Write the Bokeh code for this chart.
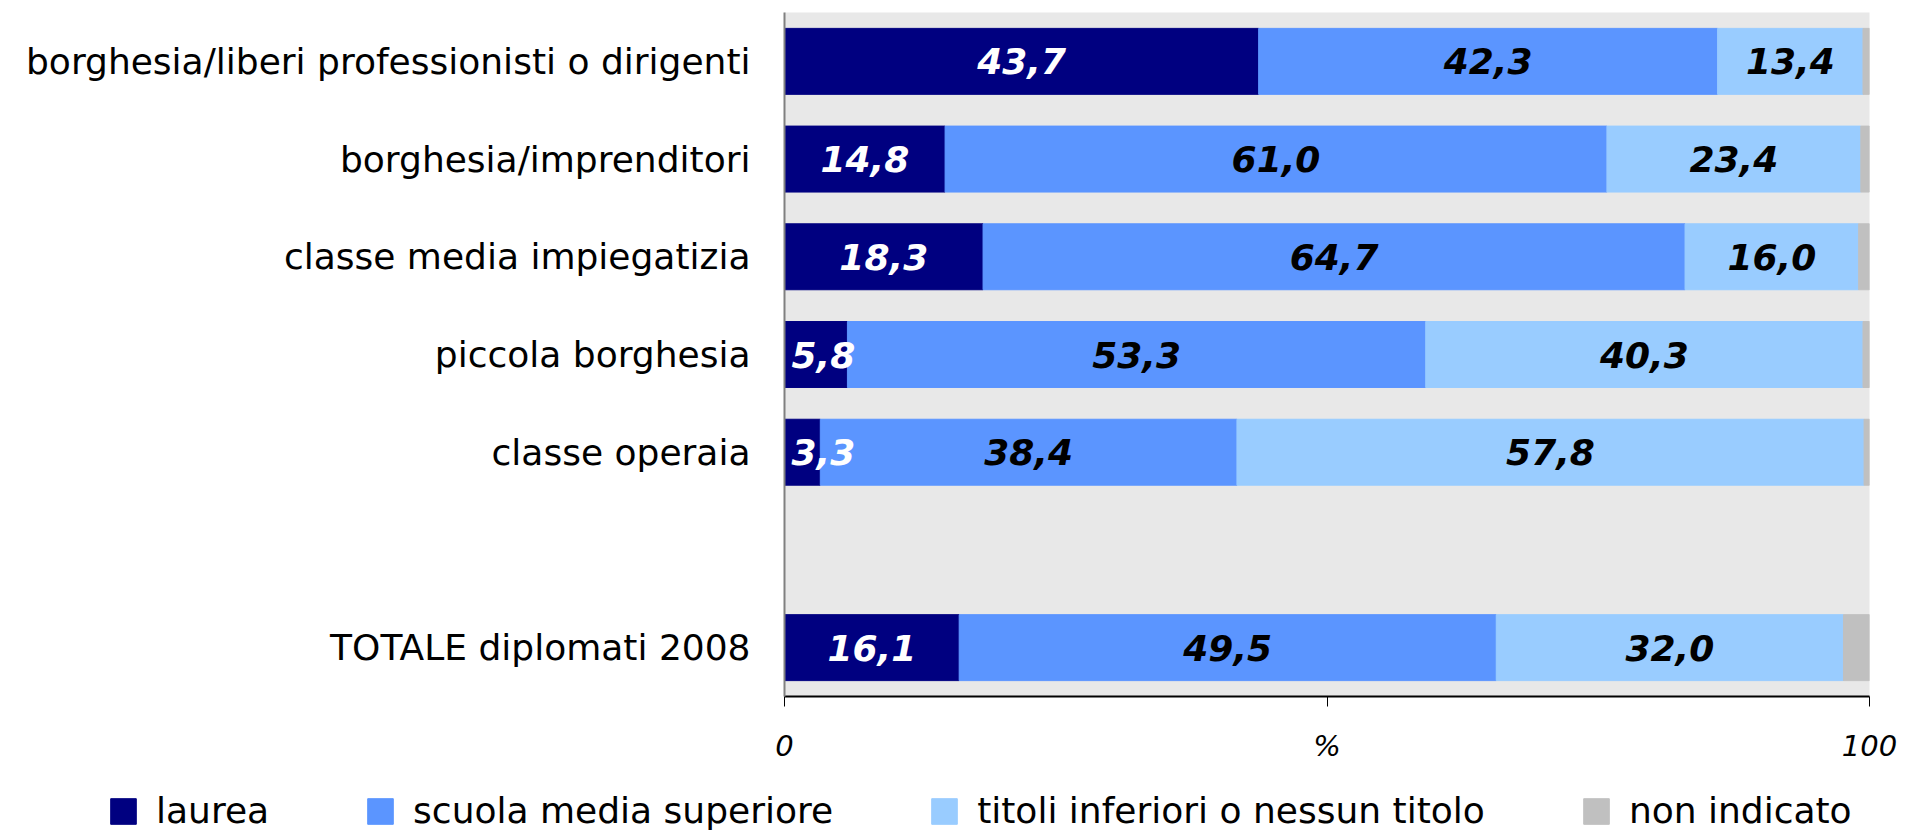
from bokeh.plotting import figure
from bokeh.models import ColumnDataSource, Range1d, FixedTicker, Legend, LegendItem
from bokeh.layouts import column
from bokeh.core.properties import value
from bokeh.embed import file_html
from bokeh.resources import INLINE

# ---- data ----
categories = ["borghesia/liberi professionisti o dirigenti", "borghesia/imprenditori",
              "classe media impiegatizia", "piccola borghesia", "classe operaia",
              "TOTALE diplomati 2008"]
row_pos = [0, 1, 2, 3, 4, 6]
laurea = [43.7, 14.8, 18.3, 5.8, 3.3, 16.1]
scuola = [42.3, 61.0, 64.7, 53.3, 38.4, 49.5]
titoli = [13.4, 23.4, 16.0, 40.3, 57.8, 32.0]
non_indicato = [0.6, 0.8, 1.0, 0.6, 0.5, 2.4]
series_names = ["laurea", "scuola media superiore", "titoli inferiori o nessun titolo", "non indicato"]
colors = ["#000080", "#5B95FF", "#99CCFF", "#C0C0C0"]
label_colors = ["white", "black", "black"]
x_ticks = [0, 50, 100]
x_tick_labels = ["0", "%", "100"]

keys = ["laurea", "scuola", "titoli", "non"]
src = ColumnDataSource(dict(y=row_pos, laurea=laurea, scuola=scuola, titoli=titoli, non=non_indicato))

p = figure(width=1899, height=766, x_range=Range1d(0, 100), y_range=Range1d(6.5, -0.5),
           output_backend="svg", toolbar_location=None, title=None,
           min_border_left=784, min_border_right=30, min_border_top=12, min_border_bottom=70)
p.background_fill_color = "#E8E8E8"
p.border_fill_color = "white"
p.outline_line_color = None
p.grid.visible = False

rends = p.hbar_stack(keys, y="y", height=0.675, color=colors, source=src)

# value labels
def fmt(v):
    return f"{v:.1f}".replace(".", ",")

c_x, c_y, c_t, c_col = [], [], [], []
l_x, l_y, l_t, l_col = [], [], [], []
for i, yv in enumerate(row_pos):
    vals = [laurea[i], scuola[i], titoli[i]]
    start = 0.0
    for j, v in enumerate(vals):
        center = start + v / 2
        if j == 0 and v < 8:
            l_x.append(0); l_y.append(yv); l_t.append(fmt(v)); l_col.append(label_colors[j])
        else:
            c_x.append(center); c_y.append(yv); c_t.append(fmt(v)); c_col.append(label_colors[j])
        start += v

font = value("DejaVu Sans")
p.text(x="x", y="y", text="t", text_color="c", source=ColumnDataSource(dict(x=c_x, y=c_y, t=c_t, c=c_col)),
       text_align="center", text_baseline="middle", text_font=font, text_font_style="bold italic",
       text_font_size="36px")
p.text(x="x", y="y", text="t", text_color="c", source=ColumnDataSource(dict(x=l_x, y=l_y, t=l_t, c=l_col)),
       text_align="left", text_baseline="middle", x_offset=7, text_font=font, text_font_style="bold italic",
       text_font_size="36px")

# y axis
p.yaxis.ticker = FixedTicker(ticks=row_pos)
p.yaxis.major_label_overrides = {pos: name for pos, name in zip(row_pos, categories)}
p.yaxis.major_label_text_font = "DejaVu Sans"
p.yaxis.major_label_text_font_size = "36px"
p.yaxis.major_label_text_color = "black"
p.yaxis.major_label_standoff = 34
p.yaxis.major_tick_out = 0
p.yaxis.major_tick_in = 0
p.yaxis.minor_tick_out = 0
p.yaxis.minor_tick_in = 0
p.yaxis.axis_line_color = "#808080"
p.yaxis.axis_line_width = 2

# x axis
p.xaxis.ticker = FixedTicker(ticks=x_ticks)
p.xaxis.major_label_overrides = {t: l for t, l in zip(x_ticks, x_tick_labels)}
p.xaxis.major_label_text_font = "DejaVu Sans"
p.xaxis.major_label_text_font_style = "italic"
p.xaxis.major_label_text_font_size = "29px"
p.xaxis.major_label_text_color = "black"
p.xaxis.major_label_standoff = 22
p.xaxis.major_tick_out = 10
p.xaxis.major_tick_in = 0
p.xaxis.minor_tick_out = 0
p.xaxis.minor_tick_in = 0
p.xaxis.axis_line_color = "black"
p.xaxis.axis_line_width = 2
p.xaxis.major_tick_line_color = "black"

# legend strip
p2 = figure(width=1899, height=66, x_range=Range1d(0, 1), y_range=Range1d(0, 1),
            output_backend="svg", toolbar_location=None, title=None,
            x_axis_location=None, y_axis_location=None,
            min_border_left=0, min_border_right=0, min_border_top=0, min_border_bottom=0)
p2.frame_align = False
p2.outline_line_color = None
p2.grid.visible = False
p2.background_fill_color = "white"
leg_rends = [p2.hbar(y=[-5], right=[0], height=0.5, color=c) for c in colors]

legend = Legend(items=[LegendItem(label=n, renderers=[r]) for n, r in zip(series_names, leg_rends)],
                orientation="horizontal", location=(107, 1), padding=0, margin=0, spacing=95,
                glyph_width=32, glyph_height=32, label_standoff=17,
                label_text_font="DejaVu Sans", label_text_font_size="36px", label_text_color="black",
                border_line_alpha=0, background_fill_alpha=0)
p2.add_layout(legend)

layout = column(p, p2, spacing=0)
open("out.html", "w").write(file_html(layout, INLINE))
